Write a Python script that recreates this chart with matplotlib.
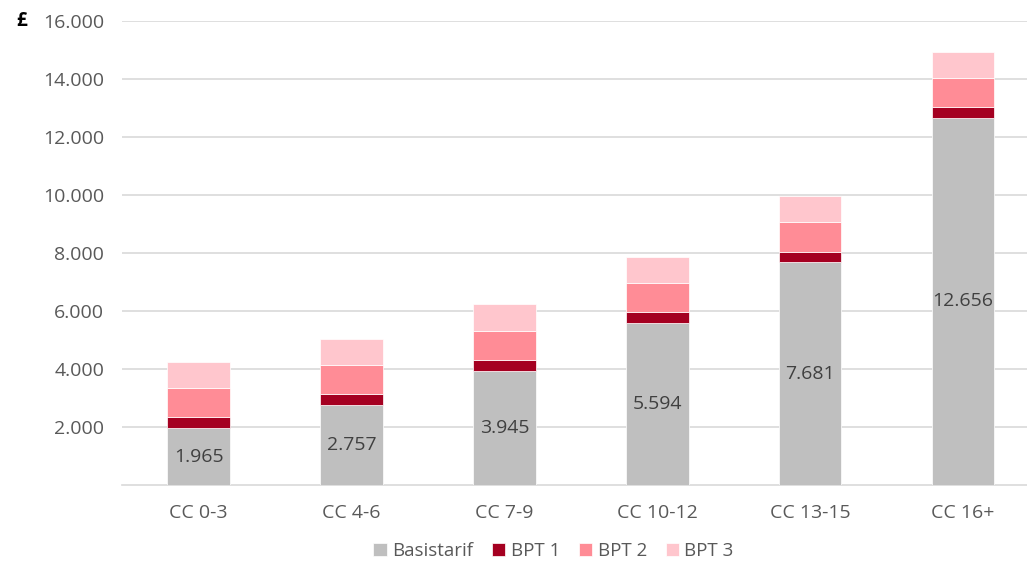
import matplotlib
matplotlib.use("Agg")
import matplotlib.pyplot as plt
import numpy as np

categories = ["CC 0-3", "CC 4-6", "CC 7-9", "CC 10-12", "CC 13-15", "CC 16+"]
basistarif = [1965, 2757, 3945, 5594, 7681, 12656]
bpt1 = [370, 370, 355, 360, 365, 370]
bpt2 = [1020, 1020, 1020, 1020, 1010, 1000]
bpt3 = [885, 875, 910, 876, 908, 896]
series_names = ["Basistarif", "BPT 1", "BPT 2", "BPT 3"]
yticks = [2000, 4000, 6000, 8000, 10000, 12000, 14000, 16000]

colors = ["#BFBFBF", "#A50021", "#FF8C96", "#FFC6CD"]
plt.rcParams['font.family'] = ['Open Sans', 'DejaVu Sans']

fig = plt.figure(figsize=(10.27, 5.62), dpi=100)
ax = fig.add_axes([0.119, 0.137, 0.893, 0.826])

x = np.arange(len(categories))
bottom = np.zeros(len(categories))
handles = []
for vals, name, c in zip([basistarif, bpt1, bpt2, bpt3], series_names, colors):
    h = ax.bar(x, vals, 0.41, bottom=bottom, color=c, label=name,
               edgecolor="white", linewidth=0.5, zorder=3)
    handles.append(h)
    bottom = bottom + np.array(vals)

for xi, v in zip(x, basistarif):
    ax.text(xi, v / 2, f"{v:,}".replace(",", "."), ha="center", va="center",
            fontsize=14, color="#404040", zorder=4)

ax.set_xlim(-0.5, len(categories) - 0.5)
ax.set_ylim(0, 16000)
ax.set_yticks(yticks)
ax.set_yticklabels([f"{v:,}".replace(",", ".") for v in yticks])
ax.set_xticks(x)
ax.set_xticklabels(categories)
ax.tick_params(axis="both", length=0, labelsize=14, labelcolor="#595959")
ax.tick_params(axis="y", pad=13)
ax.tick_params(axis="x", pad=14)
ax.grid(axis="y", color="#D9D9D9", linewidth=1.2, zorder=0)
for s in ["top", "right", "left"]:
    ax.spines[s].set_visible(False)
ax.spines["bottom"].set_color("#D9D9D9")
ax.spines["bottom"].set_linewidth(1.2)

fig.text(0.016, 0.963, "£", fontsize=13.5, fontweight="bold", color="black",
         ha="left", va="center")

fig.legend(handles=handles, labels=series_names, loc="center",
           bbox_to_anchor=(0.539, 0.02), ncol=4, frameon=False, fontsize=13.5,
           labelcolor="#595959", handlelength=0.7, handleheight=0.7,
           handletextpad=0.3, columnspacing=1.0)

fig.savefig("out.png", dpi=100)
